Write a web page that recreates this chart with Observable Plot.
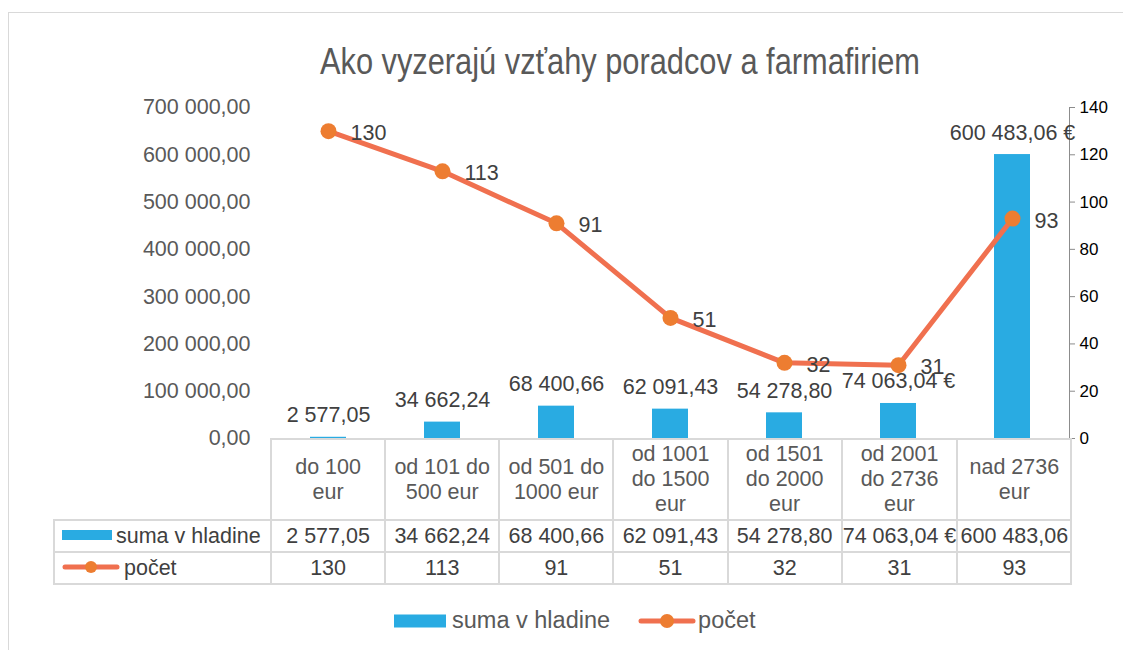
<!DOCTYPE html>
<html><head><meta charset="utf-8">
<script src="https://cdn.jsdelivr.net/npm/d3@7"></script>
<script src="https://cdn.jsdelivr.net/npm/@observablehq/plot@0.6"></script>
<style>
body{margin:0;background:#fff;font-family:"Liberation Sans",Arial,sans-serif;}
#wrap{position:relative;width:1123px;height:650px;overflow:hidden;background:#fff;}
#frame{position:absolute;left:8px;top:12px;width:1200px;height:700px;border:1px solid #d9d9d9;}
#title{position:absolute;left:620px;top:44px;font-size:36px;line-height:36px;color:#595959;white-space:nowrap;transform:translateX(-50%) scaleX(0.855);}
#chart{position:absolute;left:0;top:0;}
#tbl{position:absolute;left:53px;top:438px;border-collapse:collapse;table-layout:fixed;font-size:21.5px;color:#404040;}
#tbl td{border:2px solid #d9d9d9;padding:0;text-align:center;white-space:nowrap;overflow:visible;}
#tbl tr.head td{height:79px;color:#595959;line-height:25px;vertical-align:middle;}
#tbl tr.head td.blank{border-top:none;border-left:none;}
#tbl tr.row td{height:30px;line-height:30px;}
#tbl td.lab{text-align:left;padding-left:7px;}
#tbl td.lab svg{vertical-align:middle;margin-right:4px;position:relative;top:-2px;}
#legend{position:absolute;left:394px;top:607px;display:flex;align-items:center;font-size:23.5px;color:#595959;}
#legend .item{display:flex;align-items:center;}
</style></head>
<body><div id="wrap"><div id="frame"></div><div id="title">Ako vyzerajú vzťahy poradcov a farmafiriem</div><div id="chart"></div><table id="tbl"></table><div id="legend"></div></div>
<script>
// ---- data ----
const categories = ["do 100 eur","od 101 do 500 eur","od 501 do 1000 eur","od 1001 do 1500 eur","od 1501 do 2000 eur","od 2001 do 2736 eur","nad 2736 eur"];
const categoryLines = [["do 100","eur"],["od 101 do","500 eur"],["od 501 do","1000 eur"],["od 1001","do 1500","eur"],["od 1501","do 2000","eur"],["od 2001","do 2736","eur"],["nad 2736","eur"]];
const suma = [2577.05, 34662.24, 68400.66, 62091.43, 54278.80, 74063.04, 600483.06];
const pocet = [130, 113, 91, 51, 32, 31, 93];
const sumaEuroChart = [false, false, false, false, false, true, true];
const sumaEuroTable = [false, false, false, false, false, true, false];
const leftTicks = [0, 100000, 200000, 300000, 400000, 500000, 600000, 700000];
const rightTicks = [0, 20, 40, 60, 80, 100, 120, 140];
const seriesNames = ["suma v hladine", "počet"];

const barColor = "#29abe2", lineColor = "#f0704f", dotColor = "#ed7d31";
const leftMax = 700000, rightMax = 140, k = leftMax / rightMax;

const loc = d3.formatLocale({decimal: ",", thousands: "\u00a0", grouping: [3], currency: ["", ""]});
const f2 = loc.format(",.2f");
const data = categories.map((c, i) => ({cat: c, suma: suma[i], pocet: pocet[i],
  sumaLabel: f2(suma[i]) + (sumaEuroChart[i] ? " €" : ""),
  sumaTable: f2(suma[i]) + (sumaEuroTable[i] ? " €" : "")}));

const plot = Plot.plot({
  width: 1123, height: 460,
  marginTop: 107, marginBottom: 22, marginLeft: 270, marginRight: 54,
  style: {fontFamily: "Liberation Sans, Arial, sans-serif", background: "transparent", overflow: "visible"},
  x: {domain: categories, paddingInner: 0.685, paddingOuter: 0.3425, axis: null},
  y: {domain: [0, leftMax], axis: null},
  marks: [
    Plot.axisY({anchor: "left", label: null, ticks: leftTicks, tickFormat: f2, tickSize: 0, tickPadding: 20, fontSize: 21.5, fill: "#595959"}),
    Plot.axisY(rightTicks.map(v => v * k), {anchor: "right", label: null, tickFormat: d => String(Math.round(d / k)), tickSize: 5, tickPadding: 5, fontSize: 17, fill: "#000", stroke: "#8c8c8c"}),
    Plot.frame({anchor: "right", stroke: "#8c8c8c"}),
    Plot.barY(data, {x: "cat", y: "suma", fill: barColor}),
    Plot.text(data, {x: "cat", y: "suma", text: "sumaLabel", lineAnchor: "bottom", dy: -15, fontSize: 21.5, fill: "#404040"}),
    Plot.line(data, {x: "cat", y: d => d.pocet * k, stroke: lineColor, strokeWidth: 5, strokeLinejoin: "round"}),
    Plot.dot(data, {x: "cat", y: d => d.pocet * k, r: 8, fill: dotColor}),
    Plot.text(data, {x: "cat", y: d => d.pocet * k, text: d => String(d.pocet), textAnchor: "start", dx: 22, dy: 2, fontSize: 21.5, fill: "#404040"})
  ]
});
document.getElementById("chart").appendChild(plot);

// ---- data table ----
const colW = (1069 - 270) / categories.length;
const tbl = d3.select("#tbl");
const cg = tbl.append("colgroup");
cg.append("col").style("width", "217px");
categories.forEach(() => cg.append("col").style("width", colW + "px"));
const head = tbl.append("tr").attr("class", "head");
head.append("td").attr("class", "blank");
categoryLines.forEach(lines => head.append("td").html(lines.join("<br>")));

const barIcon = (w, h) => `<svg width="${w}" height="14"><rect x="0" y="${(14 - h) / 2}" width="${w}" height="${h}" fill="${barColor}"/></svg>`;
const lineIcon = (w, r) => `<svg width="${w}" height="16"><line x1="3" x2="${w - 3}" y1="8" y2="8" stroke="${lineColor}" stroke-width="5" stroke-linecap="round"/><circle cx="${w / 2}" cy="8" r="${r}" fill="${dotColor}"/></svg>`;

const r1 = tbl.append("tr").attr("class", "row");
r1.append("td").attr("class", "lab").html(barIcon(50, 10) + seriesNames[0]);
data.forEach(d => r1.append("td").text(d.sumaTable));
const r2 = tbl.append("tr").attr("class", "row");
r2.append("td").attr("class", "lab").html(lineIcon(58, 6) + seriesNames[1]);
data.forEach(d => r2.append("td").text(String(d.pocet)));

// ---- legend ----
const lg = d3.select("#legend");
lg.append("div").attr("class", "item").html(barIcon(52, 13) + `<span style="margin-left:6px">${seriesNames[0]}</span>`);
lg.append("div").attr("class", "item").style("margin-left", "28px").html(lineIcon(58, 7) + `<span style="margin-left:2px">${seriesNames[1]}</span>`);
</script></body></html>
